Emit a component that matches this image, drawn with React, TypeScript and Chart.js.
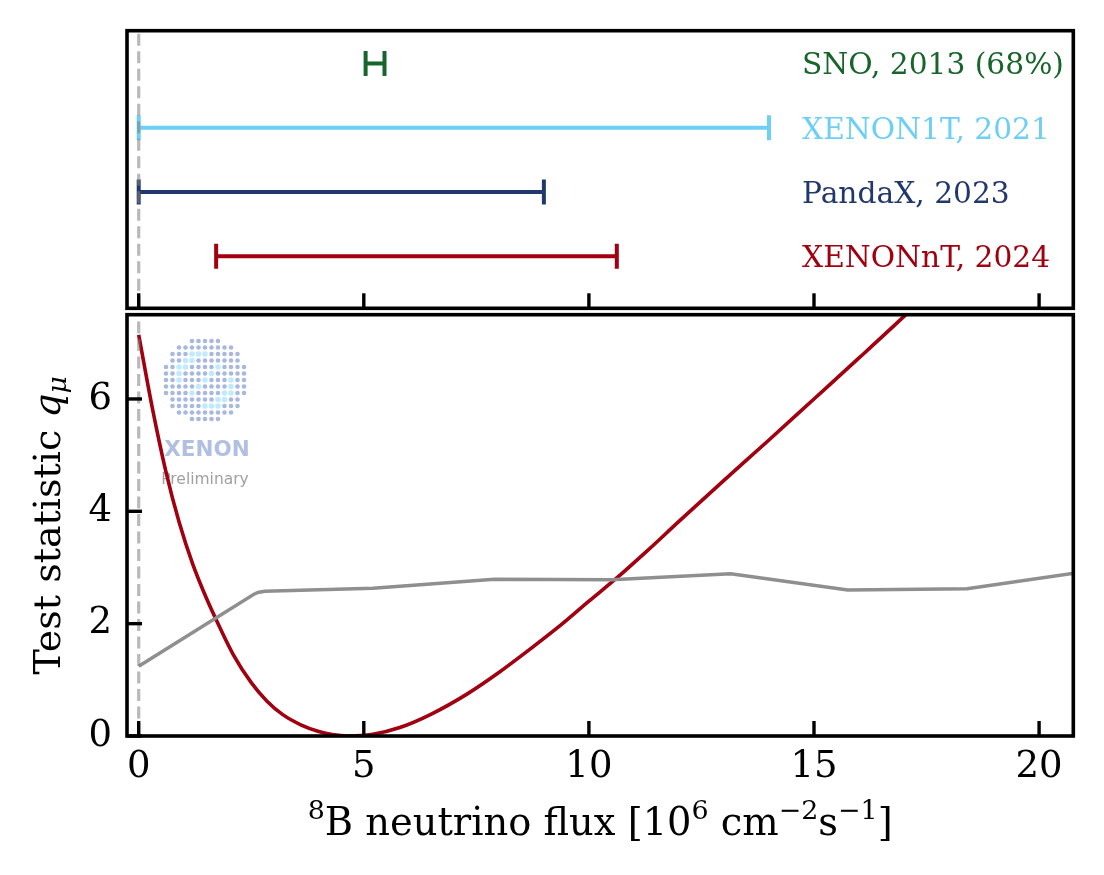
import React, { useEffect, useRef } from "react";
import { Chart, registerables } from "chart.js";

Chart.register(...registerables);

// ---------- data ----------
const X_MIN = -0.26;
const X_MAX = 20.76;
const Y_MIN = 0;
const Y_MAX = 7.5;
const X_TICKS = [0, 5, 10, 15, 20];
const Y_TICKS = [0, 2, 4, 6];

const EXPERIMENTS = ["SNO, 2013 (68%)", "XENON1T, 2021", "PandaX, 2023", "XENONnT, 2024"];
const EXP_ROWS = [3.5, 2.5, 1.5, 0.5];
const EXP_LOW = [5.04, 0.0, 0.0, 1.72];
const EXP_HIGH = [5.46, 14.0, 9.0, 10.62];
const EXP_COLORS = ["#17652a", "#6dcff6", "#22386c", "#a0000f"];

// XENONnT test statistic curve
const NT_FLUX = [0, 0.3, 0.6, 0.9, 1.2, 1.5, 1.75, 2.1, 2.5, 2.85, 3.2, 3.6, 4.0, 4.3, 4.65, 5.2, 5.8, 6.5, 7.3, 8.0, 8.7, 9.4, 10.0, 10.6, 11.3, 12.0, 13.0, 14.0, 15.0, 16.0, 17.0, 17.3];
const NT_TS = [7.14, 5.85, 4.72, 3.8, 3.06, 2.46, 2.02, 1.45, 0.95, 0.62, 0.38, 0.2, 0.08, 0.025, 0.0, 0.03, 0.15, 0.39, 0.75, 1.13, 1.55, 1.99, 2.4, 2.8, 3.3, 3.82, 4.55, 5.27, 6.0, 6.73, 7.47, 7.7];

// critical threshold curve (gray)
const CRIT_FLUX = [0, 2.55, 2.65, 2.8, 5.2, 7.9, 10.5, 13.15, 15.75, 18.4, 20.8];
const CRIT_TS = [1.24, 2.52, 2.555, 2.575, 2.63, 2.79, 2.78, 2.89, 2.6, 2.62, 2.9];

// x title pieces: [text, isSuperscript]
const X_TITLE_PARTS: [string, boolean][] = [
  ["8", true],
  ["B neutrino flux [10", false],
  ["6", true],
  [" cm", false],
  ["−2", true],
  ["s", false],
  ["−1", true],
  ["]", false],
];
const Y_TITLE_MAIN = "Test statistic ";
const Y_TITLE_VAR = "q";
const Y_TITLE_SUB = "μ";

const SERIF = '"DejaVu Serif", serif';

function drawFrameAndTicks(chart: any, withY: boolean) {
  const { ctx, chartArea: a } = chart;
  const xs = chart.scales.x;
  const ys = chart.scales.y;
  ctx.save();
  ctx.strokeStyle = "#000";
  ctx.lineWidth = 3.4;
  ctx.lineCap = "butt";
  X_TICKS.forEach((v) => {
    const px = xs.getPixelForValue(v);
    ctx.beginPath();
    ctx.moveTo(px, a.bottom);
    ctx.lineTo(px, a.bottom - 15);
    ctx.stroke();
  });
  if (withY) {
    Y_TICKS.forEach((v) => {
      const py = ys.getPixelForValue(v);
      ctx.beginPath();
      ctx.moveTo(a.left, py);
      ctx.lineTo(a.left + 15, py);
      ctx.stroke();
    });
  }
  ctx.lineWidth = 3.6;
  ctx.strokeRect(a.left, a.top, a.right - a.left, a.bottom - a.top);
  ctx.restore();
}

function drawZeroLine(chart: any) {
  const { ctx, chartArea: a } = chart;
  const px = chart.scales.x.getPixelForValue(0);
  ctx.save();
  ctx.strokeStyle = "rgba(128,128,128,0.55)";
  ctx.lineWidth = 3.2;
  ctx.setLineDash([12, 5.5]);
  ctx.beginPath();
  ctx.moveTo(px, a.bottom);
  ctx.lineTo(px, a.top);
  ctx.stroke();
  ctx.restore();
}

export default function App() {
  const topRef = useRef<HTMLCanvasElement>(null);
  const botRef = useRef<HTMLCanvasElement>(null);

  useEffect(() => {
    const W = 1104;
    const H = 875;
    const LEFT = 127;
    const RIGHT = 1073.3;
    const TOP_T = 30.7;
    const TOP_B = 308.3;
    const BOT_T = 314.7;
    const BOT_B = 736;

    Chart.defaults.font.family = SERIF;
    Chart.defaults.color = "#000";

    // ---------- top panel ----------
    const topPlugin = {
      id: "topDecor",
      afterDatasetsDraw(chart: any) {
        drawZeroLine(chart);
        const { ctx } = chart;
        const ys = chart.scales.y;
        ctx.save();
        ctx.font = `29.7px ${SERIF}`;
        ctx.textAlign = "left";
        ctx.textBaseline = "alphabetic";
        EXPERIMENTS.forEach((name, i) => {
          ctx.fillStyle = EXP_COLORS[i];
          ctx.fillText(name, 802, ys.getPixelForValue(EXP_ROWS[i]) + 10.8);
        });
        ctx.restore();
      },
      afterDraw(chart: any) {
        drawFrameAndTicks(chart, false);
      },
    };

    const topChart = new Chart(topRef.current!, {
      type: "line",
      data: {
        datasets: EXPERIMENTS.map((name, i) => ({
          label: name,
          data: [
            { x: EXP_LOW[i], y: EXP_ROWS[i] },
            { x: EXP_HIGH[i], y: EXP_ROWS[i] },
          ],
          borderColor: EXP_COLORS[i],
          borderWidth: 4,
          pointStyle: "line",
          pointRotation: 90,
          pointRadius: 12.5,
          pointBorderWidth: 4,
          pointBorderColor: EXP_COLORS[i],
          pointBackgroundColor: EXP_COLORS[i],
          clip: false,
        })),
      },
      options: {
        responsive: false,
        animation: false,
        events: [],
        layout: { padding: { left: LEFT, right: W - RIGHT, top: TOP_T, bottom: H - TOP_B } },
        plugins: { legend: { display: false }, tooltip: { enabled: false } },
        scales: {
          x: { type: "linear", min: X_MIN, max: X_MAX, display: false },
          y: { type: "linear", min: -0.31, max: 4.01, display: false },
        },
      },
      plugins: [topPlugin],
    } as any);

    // ---------- bottom panel ----------
    const botPlugin = {
      id: "botDecor",
      beforeDatasetsDraw(chart: any) {
        const { ctx } = chart;
        ctx.save();
        const cx = 205, cy = 380, r = 42, step = 6.5;
        for (let gy = -7; gy <= 7; gy++) {
          for (let gx = -7; gx <= 7; gx++) {
            const dx = gx * step;
            const dy = gy * step;
            const d = Math.hypot(dx, dy);
            if (d > r) continue;
            const ang = (Math.atan2(dy, dx) * 180) / Math.PI;
            const cyan =
              (Math.abs(d - 27) < 5 && !(ang > 100 && ang < 170) && !(ang > -80 && ang < -10)) ||
              (Math.abs(dx + dy) < 4 && d < 20);
            ctx.fillStyle = cyan ? "rgba(188,234,252,0.95)" : "rgba(160,176,218,0.9)";
            ctx.beginPath();
            ctx.arc(cx + dx, cy + dy, cyan ? 2.8 : 2.3, 0, Math.PI * 2);
            ctx.fill();
          }
        }
        ctx.textAlign = "center";
        ctx.textBaseline = "alphabetic";
        ctx.fillStyle = "rgba(170,186,224,0.92)";
        ctx.font = 'bold 21.5px "DejaVu Sans", sans-serif';
        ctx.fillText("XENON", 207, 456);
        ctx.fillStyle = "rgba(150,150,150,0.9)";
        ctx.font = '15.5px "DejaVu Sans", sans-serif';
        ctx.fillText("Preliminary", 205, 484);
        ctx.restore();
      },
      afterDatasetsDraw(chart: any) {
        drawZeroLine(chart);
      },
      afterDraw(chart: any) {
        drawFrameAndTicks(chart, true);
        const { ctx, chartArea: a } = chart;
        const fs = 38;
        ctx.save();
        ctx.fillStyle = "#000";
        ctx.textBaseline = "alphabetic";
        ctx.textAlign = "left";
        // x title with real superscripts
        const fx = 38.4;
        const fMainX = `${fx}px ${SERIF}`;
        const fSupX = `${fx * 0.7}px ${SERIF}`;
        let totalX = 0;
        X_TITLE_PARTS.forEach(([t, sup]) => {
          ctx.font = sup ? fSupX : fMainX;
          totalX += ctx.measureText(t).width;
        });
        let xx = (a.left + a.right) / 2 - totalX / 2;
        const baseY = 835;
        X_TITLE_PARTS.forEach(([t, sup]) => {
          ctx.font = sup ? fSupX : fMainX;
          ctx.fillText(t, xx, sup ? baseY - fx * 0.42 : baseY);
          xx += ctx.measureText(t).width;
        });
        // y title with italic q and subscript mu
        const fMain = `${fs}px ${SERIF}`;
        const fVar = `italic ${fs}px ${SERIF}`;
        const fSub = `italic ${fs * 0.7}px ${SERIF}`;
        ctx.font = fMain;
        const w1 = ctx.measureText(Y_TITLE_MAIN).width;
        ctx.font = fVar;
        const w2 = ctx.measureText(Y_TITLE_VAR).width;
        ctx.font = fSub;
        const w3 = ctx.measureText(Y_TITLE_SUB).width;
        const total = w1 + w2 + w3;
        ctx.translate(60, (a.top + a.bottom) / 2);
        ctx.rotate(-Math.PI / 2);
        let x0 = -total / 2;
        ctx.font = fMain;
        ctx.fillText(Y_TITLE_MAIN, x0, 0);
        x0 += w1;
        ctx.font = fVar;
        ctx.fillText(Y_TITLE_VAR, x0, 0);
        x0 += w2;
        ctx.font = fSub;
        ctx.fillText(Y_TITLE_SUB, x0, fs * 0.15);
        ctx.restore();
      },
    };

    const botChart = new Chart(botRef.current!, {
      type: "line",
      data: {
        datasets: [
          {
            label: "threshold",
            data: CRIT_FLUX.map((x, i) => ({ x, y: CRIT_TS[i] })),
            borderColor: "#8f8f8f",
            borderWidth: 3.5,
            pointRadius: 0,
            tension: 0,
            clip: 0,
          },
          {
            label: "XENONnT",
            data: NT_FLUX.map((x, i) => ({ x, y: NT_TS[i] })),
            borderColor: "#a0000f",
            borderWidth: 3.6,
            pointRadius: 0,
            cubicInterpolationMode: "monotone",
            clip: 0,
          },
        ],
      },
      options: {
        responsive: false,
        animation: false,
        events: [],
        layout: { padding: { left: 0, right: W - RIGHT, top: BOT_T, bottom: 0 } },
        plugins: { legend: { display: false }, tooltip: { enabled: false } },
        scales: {
          x: {
            type: "linear",
            position: "bottom",
            min: X_MIN,
            max: X_MAX,
            grid: { display: false, drawTicks: false },
            border: { display: false },
            afterBuildTicks: (s: any) => {
              s.ticks = X_TICKS.map((v) => ({ value: v }));
            },
            afterFit: (s: any) => {
              s.height = H - BOT_B;
            },
            ticks: {
              padding: 9,
              maxRotation: 0,
              autoSkip: false,
              color: "#000",
              font: { size: 37, family: SERIF },
            },
          },
          y: {
            type: "linear",
            min: Y_MIN,
            max: Y_MAX,
            grid: { display: false, drawTicks: false },
            border: { display: false },
            afterBuildTicks: (s: any) => {
              s.ticks = Y_TICKS.map((v) => ({ value: v }));
            },
            afterFit: (s: any) => {
              s.width = LEFT;
            },
            ticks: {
              padding: 15,
              color: "#000",
              font: { size: 37, family: SERIF },
            },
          },
        },
      },
      plugins: [botPlugin],
    } as any);

    return () => {
      topChart.destroy();
      botChart.destroy();
    };
  }, []);

  return (
    <div style={{ position: "absolute", left: 0, top: 0, width: 1104, height: 875, background: "#fff" }}>
      <canvas ref={botRef} width={1104} height={875} style={{ position: "absolute", left: 0, top: 0, width: 1104, height: 875 }} />
      <canvas ref={topRef} width={1104} height={875} style={{ position: "absolute", left: 0, top: 0, width: 1104, height: 875 }} />
    </div>
  );
}
